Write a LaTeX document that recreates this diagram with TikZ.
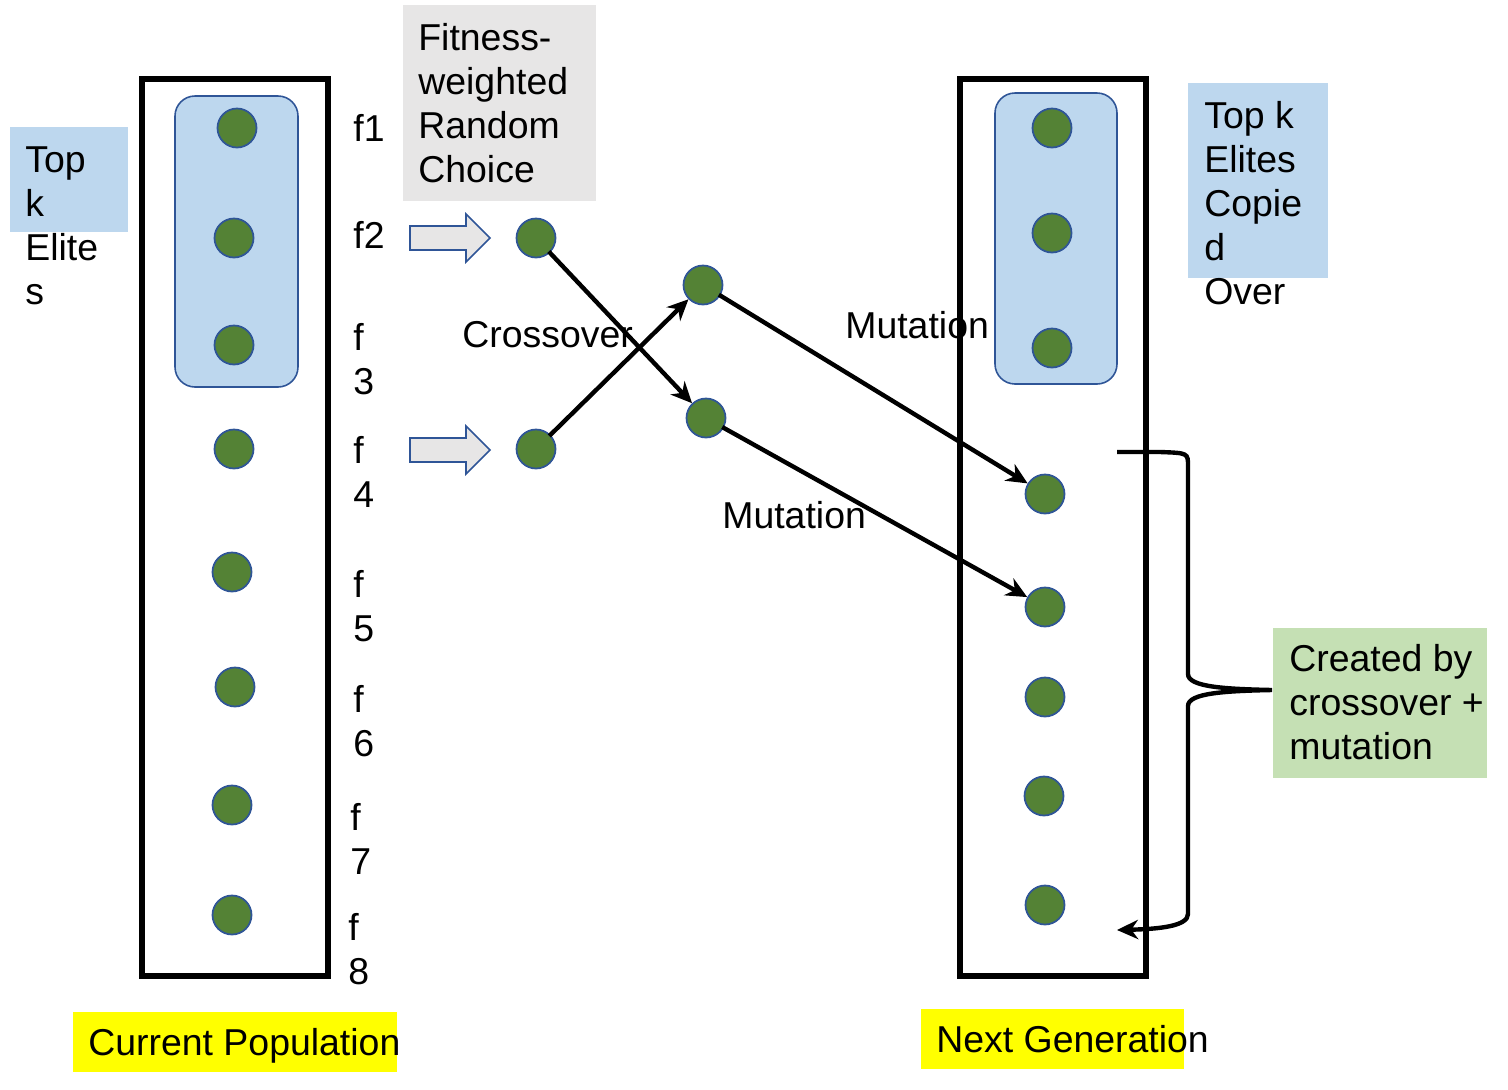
\documentclass[tikz,border=0pt]{standalone}
\usepackage{fontspec}
\setmainfont{Liberation Sans}
\usepackage{tikz}
\usetikzlibrary{arrows.meta}
\definecolor{indivGreen}{HTML}{548235}
\definecolor{edgeBlue}{HTML}{2F5597}
\definecolor{eliteBlue}{HTML}{BDD7EE}
\definecolor{choiceGray}{HTML}{E7E6E6}
\definecolor{noteGreen}{HTML}{C5E0B4}
\definecolor{tagYellow}{HTML}{FFFF00}

\begin{document}
\begin{tikzpicture}[x=0.02cm, y=-0.02cm,
    font=\fontsize{21.3}{25}\selectfont,
    indiv/.style={circle, fill=indivGreen, draw=edgeBlue, line width=1pt, minimum size=0.78cm, inner sep=0pt},
    popbox/.style={draw=black, line width=3pt},
    elitebox/.style={draw=edgeBlue, line width=0.9pt, fill=eliteBlue, rounded corners=0.4cm},
    lbl/.style={inner sep=0pt, anchor=base west, align=left},
    blockarr/.style={draw=edgeBlue, line width=0.9pt, fill=choiceGray},
    link/.style={-{Stealth[length=12pt, width=11pt]}, line width=2.5pt, shorten <=-1pt},
    bracearr/.style={-{Stealth[length=12pt, width=11pt]}, line width=2.5pt}
  ]
  \useasboundingbox (0,0) rectangle (1508,1089);

  % population columns
  \draw[popbox] (142,79) rectangle (328,976);
  \draw[popbox] (960,79) rectangle (1146,976);
  \draw[elitebox] (175,96) rectangle (298,387);
  \draw[elitebox] (995,93) rectangle (1117,384);

  % label backgrounds
  \fill[eliteBlue] (10,127) rectangle (128,232);
  \fill[eliteBlue] (1188,83) rectangle (1328,278);
  \fill[choiceGray] (403,5) rectangle (596,201);
  \fill[noteGreen] (1273,628) rectangle (1487,778);
  \fill[tagYellow] (73,1012) rectangle (397,1072);
  \fill[tagYellow] (921,1009) rectangle (1184,1069);

  % individuals
  \foreach \n/\x/\y in {1/237/128, 2/234/238, 3/234/345, 4/234/449, 5/232/572, 6/235/687, 7/232/805, 8/232/915}
    \node[indiv] (cur\n) at (\x,\y) {};
  \foreach \n/\x/\y in {1/1052/128, 2/1052/233, 3/1052/348, 4/1045/494, 5/1045/607, 6/1045/697, 7/1044/796, 8/1045/905}
    \node[indiv] (nxt\n) at (\x,\y) {};
  \node[indiv] (par1) at (536,238) {};
  \node[indiv] (par2) at (536,449) {};
  \node[indiv] (kid1) at (703,285) {};
  \node[indiv] (kid2) at (706,418) {};

  % fitness labels (multi-line ones sit on their last baseline)
  \node[lbl] (fit1) at (353,141) {f1};
  \node[lbl] (fit2) at (353,248) {f2};
  \node[lbl] (fit3) at (353,394) {f\\3};
  \node[lbl] (fit4) at (353,507) {f\\4};
  \node[lbl] (fit5) at (353,641) {f\\5};
  \node[lbl] (fit6) at (353,756) {f\\6};
  \node[lbl] (fit7) at (350,874) {f\\7};
  \node[lbl] (fit8) at (348,984) {f\\8};

  % texts
  \node[lbl] (topk) at (25,304) {Top\\k\\Elite\\s};
  \node[lbl] (choice) at (418,182) {Fitness-\\weighted\\Random\\Choice};
  \node[lbl] (copied) at (1204,304) {Top k\\Elites\\Copie\\d\\Over};
  \node[lbl] (created) at (1289,759) {Created by\\crossover +\\mutation};
  \node[lbl] (cross) at (462,347) {Crossover};
  \node[lbl] (mut1) at (845,338) {Mutation};
  \node[lbl] (mut2) at (722,528) {Mutation};
  \node[lbl] (curpop) at (88,1055) {Current Population};
  \node[lbl] (nextgen) at (936,1052) {Next Generation};

  % selection arrows
  \foreach \y in {238,450}
    \draw[blockarr] (410,\y-12) -- (466,\y-12) -- (466,\y-24) -- (490,\y) -- (466,\y+24) -- (466,\y+12) -- (410,\y+12) -- cycle;

  \draw[link] (par1) -- (kid2);
  \draw[link] (par2) -- (kid1);
  \draw[link] (kid1) -- (nxt4);
  \draw[link] (kid2) -- (nxt5);

  % brace
  \coordinate (btop) at (1117,452);
  \coordinate (btip) at (1272,690);
  \coordinate (bbot) at (1117,930);
  \draw[bracearr] (btop) -- (1160,452) .. controls (1188,453) .. (1188,466)
    -- (1188,674) .. controls (1188,687) and (1225,689) .. (btip)
    .. controls (1225,691) and (1188,693) .. (1188,706)
    -- (1188,914) .. controls (1188,926) and (1160,929) .. (bbot);
\end{tikzpicture}
\end{document}
